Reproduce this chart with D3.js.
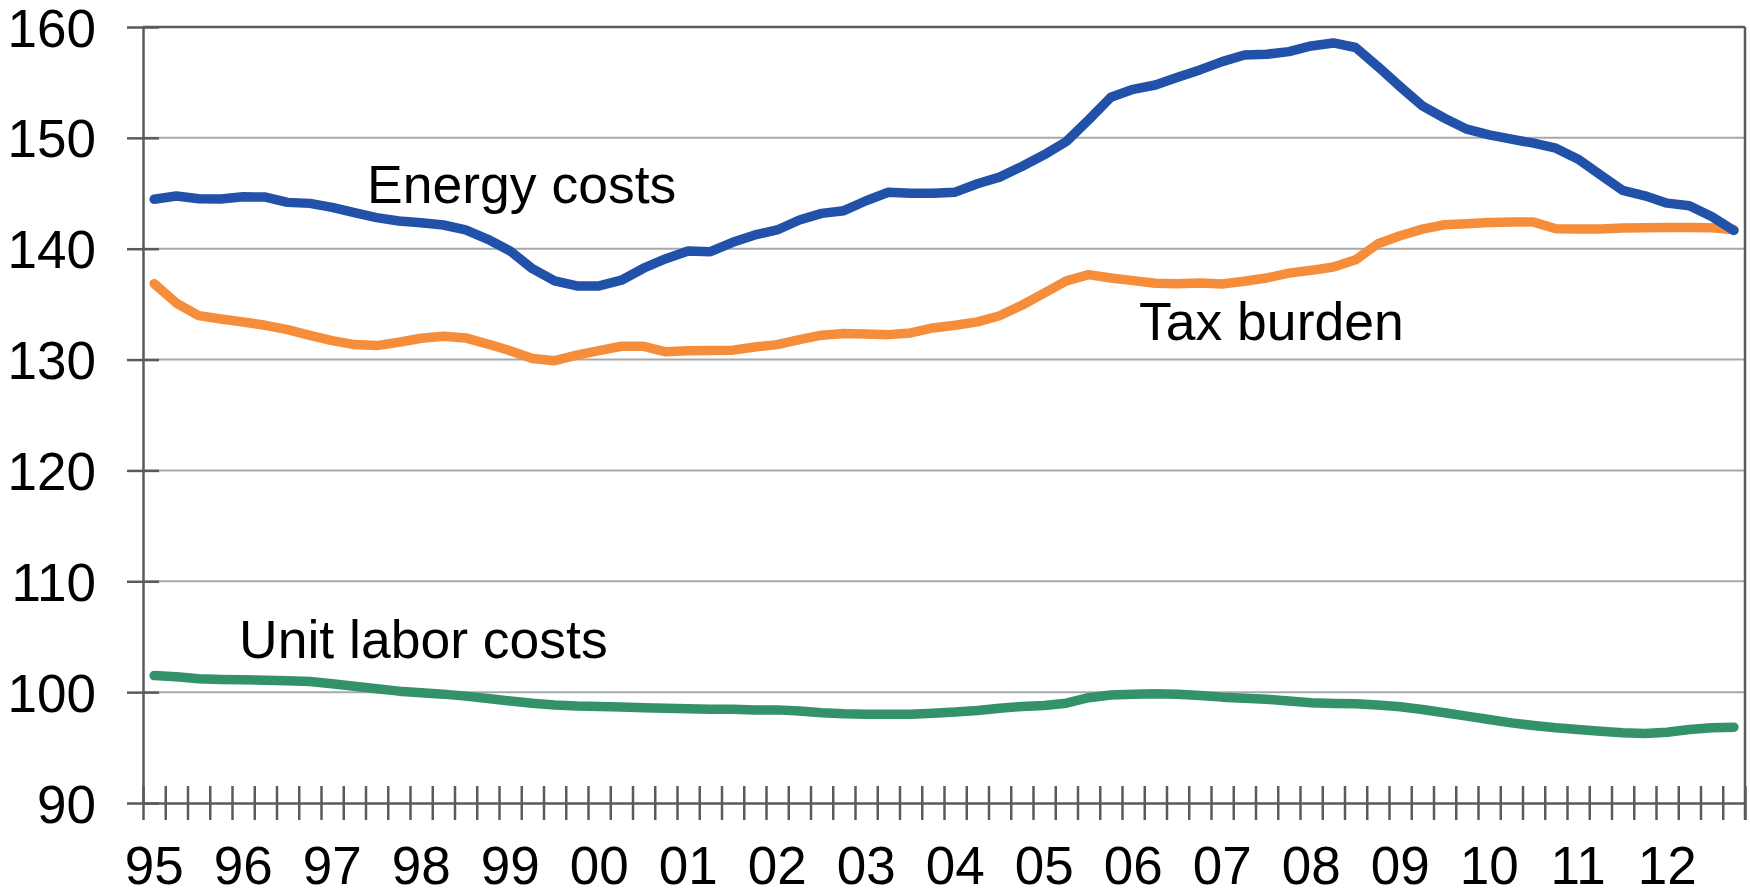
<!DOCTYPE html>
<html>
<head>
<meta charset="utf-8">
<script src="https://cdn.jsdelivr.net/npm/d3@7"></script>
<style>
  html, body { margin: 0; padding: 0; background: #ffffff; }
  svg { display: block; }
  text { font-family: "Liberation Sans", Arial, sans-serif; fill: #000; }
</style>
</head>
<body>
<svg id="chart" width="1750" height="891"></svg>
<script>
// ---- data (quarterly, 1995Q1 .. 2012Q4) ----
const years = ["95","96","97","98","99","00","01","02","03","04","05","06","07","08","09","10","11","12"];
const quarters = years.flatMap(yr => ["Q1","Q2","Q3","Q4"].map(q => yr + q));

const energyCosts = [
  144.46, 144.75, 144.51, 144.48, 144.69, 144.66, 144.18, 144.09,
  143.73, 143.25, 142.80, 142.50, 142.35, 142.14, 141.69, 140.85,
  139.80, 138.20, 137.10, 136.64, 136.64, 137.16, 138.24, 139.10,
  139.80, 139.73, 140.58, 141.24, 141.69, 142.59, 143.19, 143.43,
  144.33, 145.09, 145.00, 145.00, 145.10, 145.86, 146.46, 147.42,
  148.47, 149.67, 151.62, 153.66, 154.38, 154.77, 155.47, 156.13,
  156.88, 157.48, 157.54, 157.78, 158.29, 158.56, 158.15, 156.43,
  154.62, 152.88, 151.77, 150.78, 150.27, 149.88, 149.52, 149.07,
  148.08, 146.67, 145.26, 144.77, 144.11, 143.87, 142.91, 141.65
];
const taxBurden = [
  136.85, 135.10, 133.96, 133.66, 133.39, 133.09, 132.70, 132.19,
  131.71, 131.35, 131.26, 131.56, 131.92, 132.10, 131.95, 131.40,
  130.80, 130.10, 129.90, 130.40, 130.80, 131.20, 131.20, 130.70,
  130.80, 130.82, 130.85, 131.14, 131.35, 131.80, 132.20, 132.35,
  132.30, 132.25, 132.40, 132.85, 133.10, 133.40, 133.95, 134.90,
  136.00, 137.10, 137.66, 137.36, 137.12, 136.88, 136.85, 136.90,
  136.82, 137.06, 137.36, 137.80, 138.05, 138.35, 139.00, 140.45,
  141.17, 141.77, 142.16, 142.25, 142.37, 142.40, 142.40, 141.80,
  141.77, 141.77, 141.86, 141.89, 141.92, 141.92, 141.89, 141.71
];
const unitLaborCosts = [
  101.50, 101.38, 101.20, 101.14, 101.11, 101.08, 101.02, 100.96,
  100.75, 100.54, 100.30, 100.09, 99.94, 99.82, 99.64, 99.43,
  99.20, 99.00, 98.85, 98.75, 98.70, 98.65, 98.60, 98.55,
  98.50, 98.45, 98.45, 98.40, 98.40, 98.30, 98.15, 98.05,
  98.00, 98.00, 98.00, 98.10, 98.20, 98.35, 98.55, 98.70,
  98.80, 99.00, 99.50, 99.75, 99.80, 99.85, 99.80, 99.70,
  99.55, 99.45, 99.35, 99.20, 99.04, 98.98, 98.95, 98.83,
  98.68, 98.44, 98.14, 97.84, 97.53, 97.23, 96.99, 96.78,
  96.63, 96.48, 96.33, 96.27, 96.39, 96.63, 96.78, 96.84
];
const yTicks = [90, 100, 110, 120, 130, 140, 150, 160];
const seriesNames = ["Energy costs", "Tax burden", "Unit labor costs"];
const seriesColors = ["#2151A9", "#F68D3B", "#33926A"];

// ---- layout ----
const svg = d3.select("#chart");
const pLeft = 143, pRight = 1745, pTop = 27, pBottom = 803;
const axisColor = "#575B5F", gridColor = "#A6A9AC";
const fontStack = "'Liberation Sans', Arial, sans-serif";

const x = d3.scaleBand().domain(quarters).range([pLeft, pRight]).padding(0);
const xEdge = d3.scaleLinear().domain([0, quarters.length]).range([pLeft, pRight]);
const y = d3.scaleLinear().domain([90, 160]).range([pBottom, pTop]);

// gridlines
svg.append("g").selectAll("line").data(yTicks.filter(t => t > 90 && t < 160)).join("line")
  .attr("x1", pLeft).attr("x2", pRight)
  .attr("y1", d => y(d)).attr("y2", d => y(d))
  .attr("stroke", gridColor).attr("stroke-width", 2);

// frame (top & right)
svg.append("line").attr("x1", pLeft).attr("x2", pRight).attr("y1", y(160)).attr("y2", y(160))
  .attr("stroke", axisColor).attr("stroke-width", 2.5);
svg.append("line").attr("x1", pRight).attr("x2", pRight).attr("y1", pTop).attr("y2", pBottom + 17)
  .attr("stroke", axisColor).attr("stroke-width", 2.5);

// y axis
const yAxis = svg.append("g").attr("transform", `translate(${pLeft},0)`)
  .call(d3.axisLeft(y).tickValues(yTicks).tickFormat(d3.format("d")).tickSizeOuter(0));
yAxis.select(".domain").attr("stroke", axisColor).attr("stroke-width", 2.5);
yAxis.selectAll(".tick line").attr("x1", -16).attr("x2", 16)
  .attr("stroke", axisColor).attr("stroke-width", 2.5);
yAxis.selectAll(".tick text").attr("x", -47).attr("dy", "0.36em")
  .style("font-size", "53px").style("font-family", fontStack).attr("fill", "#000");

// x axis: tick marks at quarter boundaries
const xAxis = svg.append("g").attr("transform", `translate(0,${pBottom})`)
  .call(d3.axisBottom(xEdge).tickValues(d3.range(0, quarters.length + 1)).tickFormat("").tickSizeOuter(0));
xAxis.select(".domain").attr("stroke", axisColor).attr("stroke-width", 2.5);
xAxis.selectAll(".tick line").attr("y1", -17).attr("y2", 17)
  .attr("stroke", axisColor).attr("stroke-width", 2.5);

// x labels: year label at first quarter of each year
const xLab = svg.append("g").attr("transform", `translate(0,${pBottom})`)
  .call(d3.axisBottom(x).tickValues(quarters.filter(q => q.endsWith("Q1")))
    .tickFormat(q => q.slice(0, 2)).tickSize(0));
xLab.select(".domain").remove();
xLab.selectAll(".tick text").attr("y", 81).attr("dy", 0)
  .style("font-size", "53px").style("font-family", fontStack).attr("fill", "#000");

// lines
const line = d3.line().x((d, i) => x(quarters[i]) + x.bandwidth() / 2).y(d => y(d));
const allSeries = [unitLaborCosts, taxBurden, energyCosts];
const allColors = [seriesColors[2], seriesColors[1], seriesColors[0]];
svg.append("g").selectAll("path").data(allSeries).join("path")
  .attr("d", d => line(d))
  .attr("fill", "none")
  .attr("stroke", (d, i) => allColors[i])
  .attr("stroke-width", 9.5)
  .attr("stroke-linejoin", "round")
  .attr("stroke-linecap", "round");

// series labels
svg.append("text").attr("x", 367).attr("y", 203).style("font-size", "53.5px").text(seriesNames[0]);
svg.append("text").attr("x", 1139).attr("y", 340).style("font-size", "53.5px").text(seriesNames[1]);
svg.append("text").attr("x", 239).attr("y", 658).style("font-size", "53.5px").text(seriesNames[2]);
</script>
</body>
</html>
